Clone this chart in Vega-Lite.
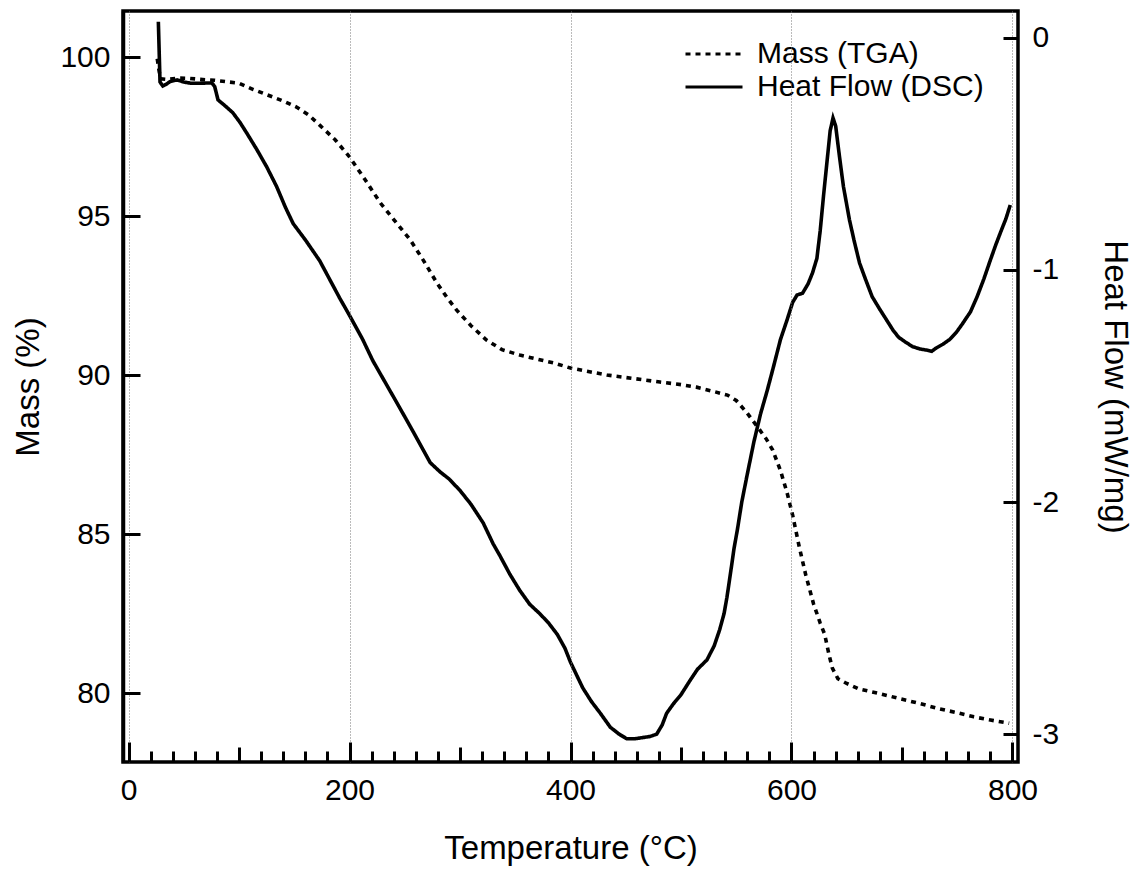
{
  "$schema": "https://vega.github.io/schema/vega-lite/v6.json",
  "width": 895,
  "height": 751,
  "autosize": {"type": "none"},
  "padding": {"left": 123, "top": 11, "right": 119, "bottom": 107},
  "background": "white",
  "config": {
    "font": "Liberation Sans",
    "view": {"stroke": "black", "strokeWidth": 3.5},
    "axis": {"labelColor": "black", "titleColor": "black", "tickColor": "black", "tickOpacity": 1, "titleFontWeight": "normal", "labelFont": "Liberation Sans", "titleFont": "Liberation Sans"}
  },
  "datasets": {
    "tga": [
      {"T": 26, "m": 99.95, "series": "Mass (TGA)"},
      {"T": 27.5, "m": 99.6, "series": "Mass (TGA)"},
      {"T": 29, "m": 99.32, "series": "Mass (TGA)"},
      {"T": 35, "m": 99.3, "series": "Mass (TGA)"},
      {"T": 45, "m": 99.34, "series": "Mass (TGA)"},
      {"T": 55, "m": 99.33, "series": "Mass (TGA)"},
      {"T": 65, "m": 99.3, "series": "Mass (TGA)"},
      {"T": 78, "m": 99.27, "series": "Mass (TGA)"},
      {"T": 90, "m": 99.22, "series": "Mass (TGA)"},
      {"T": 100, "m": 99.18, "series": "Mass (TGA)"},
      {"T": 113, "m": 98.98, "series": "Mass (TGA)"},
      {"T": 125, "m": 98.82, "series": "Mass (TGA)"},
      {"T": 140, "m": 98.62, "series": "Mass (TGA)"},
      {"T": 152, "m": 98.43, "series": "Mass (TGA)"},
      {"T": 163, "m": 98.18, "series": "Mass (TGA)"},
      {"T": 173, "m": 97.86, "series": "Mass (TGA)"},
      {"T": 187, "m": 97.4, "series": "Mass (TGA)"},
      {"T": 200, "m": 96.86, "series": "Mass (TGA)"},
      {"T": 214, "m": 96.15, "series": "Mass (TGA)"},
      {"T": 228, "m": 95.41, "series": "Mass (TGA)"},
      {"T": 241, "m": 94.85, "series": "Mass (TGA)"},
      {"T": 255, "m": 94.25, "series": "Mass (TGA)"},
      {"T": 267, "m": 93.6, "series": "Mass (TGA)"},
      {"T": 279, "m": 92.9, "series": "Mass (TGA)"},
      {"T": 288, "m": 92.45, "series": "Mass (TGA)"},
      {"T": 297, "m": 92.04, "series": "Mass (TGA)"},
      {"T": 310, "m": 91.55, "series": "Mass (TGA)"},
      {"T": 324, "m": 91.1, "series": "Mass (TGA)"},
      {"T": 338, "m": 90.8, "series": "Mass (TGA)"},
      {"T": 354, "m": 90.63, "series": "Mass (TGA)"},
      {"T": 370, "m": 90.5, "series": "Mass (TGA)"},
      {"T": 385, "m": 90.38, "series": "Mass (TGA)"},
      {"T": 400, "m": 90.22, "series": "Mass (TGA)"},
      {"T": 415, "m": 90.12, "series": "Mass (TGA)"},
      {"T": 433, "m": 90.0, "series": "Mass (TGA)"},
      {"T": 455, "m": 89.9, "series": "Mass (TGA)"},
      {"T": 481, "m": 89.78, "series": "Mass (TGA)"},
      {"T": 500, "m": 89.7, "series": "Mass (TGA)"},
      {"T": 514, "m": 89.62, "series": "Mass (TGA)"},
      {"T": 530, "m": 89.48, "series": "Mass (TGA)"},
      {"T": 542, "m": 89.37, "series": "Mass (TGA)"},
      {"T": 550, "m": 89.2, "series": "Mass (TGA)"},
      {"T": 560, "m": 88.8, "series": "Mass (TGA)"},
      {"T": 569, "m": 88.38, "series": "Mass (TGA)"},
      {"T": 577, "m": 88.0, "series": "Mass (TGA)"},
      {"T": 583, "m": 87.64, "series": "Mass (TGA)"},
      {"T": 590, "m": 87.0, "series": "Mass (TGA)"},
      {"T": 596, "m": 86.3, "series": "Mass (TGA)"},
      {"T": 601, "m": 85.6, "series": "Mass (TGA)"},
      {"T": 607, "m": 84.6, "series": "Mass (TGA)"},
      {"T": 613, "m": 83.7, "series": "Mass (TGA)"},
      {"T": 620, "m": 82.8, "series": "Mass (TGA)"},
      {"T": 626, "m": 82.2, "series": "Mass (TGA)"},
      {"T": 630, "m": 81.85, "series": "Mass (TGA)"},
      {"T": 634, "m": 81.2, "series": "Mass (TGA)"},
      {"T": 637, "m": 80.78, "series": "Mass (TGA)"},
      {"T": 642, "m": 80.45, "series": "Mass (TGA)"},
      {"T": 650, "m": 80.3, "series": "Mass (TGA)"},
      {"T": 661, "m": 80.13, "series": "Mass (TGA)"},
      {"T": 680, "m": 79.98, "series": "Mass (TGA)"},
      {"T": 697, "m": 79.83, "series": "Mass (TGA)"},
      {"T": 715, "m": 79.68, "series": "Mass (TGA)"},
      {"T": 734, "m": 79.5, "series": "Mass (TGA)"},
      {"T": 750, "m": 79.38, "series": "Mass (TGA)"},
      {"T": 765, "m": 79.25, "series": "Mass (TGA)"},
      {"T": 780, "m": 79.15, "series": "Mass (TGA)"},
      {"T": 797, "m": 79.05, "series": "Mass (TGA)"}
    ],
    "dsc": [
      {"T": 27, "h": 0.07, "series": "Heat Flow (DSC)"},
      {"T": 28.5, "h": -0.19, "series": "Heat Flow (DSC)"},
      {"T": 31, "h": -0.207, "series": "Heat Flow (DSC)"},
      {"T": 34, "h": -0.2, "series": "Heat Flow (DSC)"},
      {"T": 37.6, "h": -0.188, "series": "Heat Flow (DSC)"},
      {"T": 44, "h": -0.181, "series": "Heat Flow (DSC)"},
      {"T": 50, "h": -0.19, "series": "Heat Flow (DSC)"},
      {"T": 56, "h": -0.195, "series": "Heat Flow (DSC)"},
      {"T": 65, "h": -0.195, "series": "Heat Flow (DSC)"},
      {"T": 75.5, "h": -0.194, "series": "Heat Flow (DSC)"},
      {"T": 78, "h": -0.21, "series": "Heat Flow (DSC)"},
      {"T": 81, "h": -0.267, "series": "Heat Flow (DSC)"},
      {"T": 88, "h": -0.295, "series": "Heat Flow (DSC)"},
      {"T": 94.5, "h": -0.323, "series": "Heat Flow (DSC)"},
      {"T": 101, "h": -0.365, "series": "Heat Flow (DSC)"},
      {"T": 107, "h": -0.41, "series": "Heat Flow (DSC)"},
      {"T": 116, "h": -0.48, "series": "Heat Flow (DSC)"},
      {"T": 125, "h": -0.555, "series": "Heat Flow (DSC)"},
      {"T": 134, "h": -0.64, "series": "Heat Flow (DSC)"},
      {"T": 142, "h": -0.73, "series": "Heat Flow (DSC)"},
      {"T": 149, "h": -0.8, "series": "Heat Flow (DSC)"},
      {"T": 160, "h": -0.87, "series": "Heat Flow (DSC)"},
      {"T": 173, "h": -0.96, "series": "Heat Flow (DSC)"},
      {"T": 182, "h": -1.04, "series": "Heat Flow (DSC)"},
      {"T": 191, "h": -1.12, "series": "Heat Flow (DSC)"},
      {"T": 200.5, "h": -1.2, "series": "Heat Flow (DSC)"},
      {"T": 212, "h": -1.3, "series": "Heat Flow (DSC)"},
      {"T": 221, "h": -1.39, "series": "Heat Flow (DSC)"},
      {"T": 233, "h": -1.49, "series": "Heat Flow (DSC)"},
      {"T": 245, "h": -1.59, "series": "Heat Flow (DSC)"},
      {"T": 258, "h": -1.7, "series": "Heat Flow (DSC)"},
      {"T": 273, "h": -1.83, "series": "Heat Flow (DSC)"},
      {"T": 282, "h": -1.87, "series": "Heat Flow (DSC)"},
      {"T": 290, "h": -1.9, "series": "Heat Flow (DSC)"},
      {"T": 300, "h": -1.95, "series": "Heat Flow (DSC)"},
      {"T": 310, "h": -2.01, "series": "Heat Flow (DSC)"},
      {"T": 321, "h": -2.09, "series": "Heat Flow (DSC)"},
      {"T": 330, "h": -2.18, "series": "Heat Flow (DSC)"},
      {"T": 336, "h": -2.23, "series": "Heat Flow (DSC)"},
      {"T": 345, "h": -2.31, "series": "Heat Flow (DSC)"},
      {"T": 354, "h": -2.38, "series": "Heat Flow (DSC)"},
      {"T": 363, "h": -2.44, "series": "Heat Flow (DSC)"},
      {"T": 372, "h": -2.48, "series": "Heat Flow (DSC)"},
      {"T": 380, "h": -2.52, "series": "Heat Flow (DSC)"},
      {"T": 388, "h": -2.57, "series": "Heat Flow (DSC)"},
      {"T": 395, "h": -2.63, "series": "Heat Flow (DSC)"},
      {"T": 400, "h": -2.69, "series": "Heat Flow (DSC)"},
      {"T": 406, "h": -2.75, "series": "Heat Flow (DSC)"},
      {"T": 411, "h": -2.8, "series": "Heat Flow (DSC)"},
      {"T": 419, "h": -2.86, "series": "Heat Flow (DSC)"},
      {"T": 427, "h": -2.91, "series": "Heat Flow (DSC)"},
      {"T": 436, "h": -2.97, "series": "Heat Flow (DSC)"},
      {"T": 444, "h": -3.0, "series": "Heat Flow (DSC)"},
      {"T": 451, "h": -3.02, "series": "Heat Flow (DSC)"},
      {"T": 458, "h": -3.02, "series": "Heat Flow (DSC)"},
      {"T": 465, "h": -3.015, "series": "Heat Flow (DSC)"},
      {"T": 472, "h": -3.01, "series": "Heat Flow (DSC)"},
      {"T": 478, "h": -3.0, "series": "Heat Flow (DSC)"},
      {"T": 483, "h": -2.96, "series": "Heat Flow (DSC)"},
      {"T": 487, "h": -2.91, "series": "Heat Flow (DSC)"},
      {"T": 493, "h": -2.87, "series": "Heat Flow (DSC)"},
      {"T": 500, "h": -2.83, "series": "Heat Flow (DSC)"},
      {"T": 508, "h": -2.77, "series": "Heat Flow (DSC)"},
      {"T": 515, "h": -2.72, "series": "Heat Flow (DSC)"},
      {"T": 523.5, "h": -2.68, "series": "Heat Flow (DSC)"},
      {"T": 530, "h": -2.62, "series": "Heat Flow (DSC)"},
      {"T": 535, "h": -2.55, "series": "Heat Flow (DSC)"},
      {"T": 539, "h": -2.48, "series": "Heat Flow (DSC)"},
      {"T": 541.6, "h": -2.41, "series": "Heat Flow (DSC)"},
      {"T": 545, "h": -2.3, "series": "Heat Flow (DSC)"},
      {"T": 548, "h": -2.2, "series": "Heat Flow (DSC)"},
      {"T": 551, "h": -2.12, "series": "Heat Flow (DSC)"},
      {"T": 555, "h": -2.0, "series": "Heat Flow (DSC)"},
      {"T": 560, "h": -1.88, "series": "Heat Flow (DSC)"},
      {"T": 566, "h": -1.74, "series": "Heat Flow (DSC)"},
      {"T": 572, "h": -1.62, "series": "Heat Flow (DSC)"},
      {"T": 578, "h": -1.52, "series": "Heat Flow (DSC)"},
      {"T": 583, "h": -1.43, "series": "Heat Flow (DSC)"},
      {"T": 590, "h": -1.3, "series": "Heat Flow (DSC)"},
      {"T": 596, "h": -1.215, "series": "Heat Flow (DSC)"},
      {"T": 601, "h": -1.14, "series": "Heat Flow (DSC)"},
      {"T": 605, "h": -1.108, "series": "Heat Flow (DSC)"},
      {"T": 610, "h": -1.1, "series": "Heat Flow (DSC)"},
      {"T": 615, "h": -1.06, "series": "Heat Flow (DSC)"},
      {"T": 619, "h": -1.013, "series": "Heat Flow (DSC)"},
      {"T": 623, "h": -0.95, "series": "Heat Flow (DSC)"},
      {"T": 626, "h": -0.83, "series": "Heat Flow (DSC)"},
      {"T": 629, "h": -0.68, "series": "Heat Flow (DSC)"},
      {"T": 632, "h": -0.54, "series": "Heat Flow (DSC)"},
      {"T": 635, "h": -0.4, "series": "Heat Flow (DSC)"},
      {"T": 637.6, "h": -0.345, "series": "Heat Flow (DSC)"},
      {"T": 640, "h": -0.38, "series": "Heat Flow (DSC)"},
      {"T": 643.4, "h": -0.51, "series": "Heat Flow (DSC)"},
      {"T": 647, "h": -0.64, "series": "Heat Flow (DSC)"},
      {"T": 652.5, "h": -0.785, "series": "Heat Flow (DSC)"},
      {"T": 657, "h": -0.88, "series": "Heat Flow (DSC)"},
      {"T": 661.6, "h": -0.97, "series": "Heat Flow (DSC)"},
      {"T": 667, "h": -1.04, "series": "Heat Flow (DSC)"},
      {"T": 673, "h": -1.115, "series": "Heat Flow (DSC)"},
      {"T": 680, "h": -1.17, "series": "Heat Flow (DSC)"},
      {"T": 686, "h": -1.215, "series": "Heat Flow (DSC)"},
      {"T": 692, "h": -1.26, "series": "Heat Flow (DSC)"},
      {"T": 697, "h": -1.29, "series": "Heat Flow (DSC)"},
      {"T": 703, "h": -1.31, "series": "Heat Flow (DSC)"},
      {"T": 709.5, "h": -1.33, "series": "Heat Flow (DSC)"},
      {"T": 716, "h": -1.34, "series": "Heat Flow (DSC)"},
      {"T": 722, "h": -1.345, "series": "Heat Flow (DSC)"},
      {"T": 727, "h": -1.35, "series": "Heat Flow (DSC)"},
      {"T": 731, "h": -1.336, "series": "Heat Flow (DSC)"},
      {"T": 737, "h": -1.32, "series": "Heat Flow (DSC)"},
      {"T": 743, "h": -1.3, "series": "Heat Flow (DSC)"},
      {"T": 749, "h": -1.27, "series": "Heat Flow (DSC)"},
      {"T": 755, "h": -1.23, "series": "Heat Flow (DSC)"},
      {"T": 762, "h": -1.18, "series": "Heat Flow (DSC)"},
      {"T": 768, "h": -1.115, "series": "Heat Flow (DSC)"},
      {"T": 774, "h": -1.04, "series": "Heat Flow (DSC)"},
      {"T": 780, "h": -0.957, "series": "Heat Flow (DSC)"},
      {"T": 785, "h": -0.89, "series": "Heat Flow (DSC)"},
      {"T": 790, "h": -0.828, "series": "Heat Flow (DSC)"},
      {"T": 794, "h": -0.78, "series": "Heat Flow (DSC)"},
      {"T": 798, "h": -0.72, "series": "Heat Flow (DSC)"}
    ]
  },
  "encoding": {
    "x": {
      "field": "T", "type": "quantitative",
      "scale": {"domain": [-5, 805], "nice": false, "zero": false},
      "axis": {
        "values": [0,20,40,60,80,100,120,140,160,180,200,220,240,260,280,300,320,340,360,380,400,420,440,460,480,500,520,540,560,580,600,620,640,660,680,700,720,740,760,780,800],
        "title": "Temperature (°C)",
        "titleFontSize": 33,
        "titlePadding": 18,
        "labelFontSize": 30,
        "labelPadding": 33,
        "labelFlush": false,
        "labelOverlap": false,
        "labelExpr": "datum.value % 200 === 0 ? datum.label : ''",
        "tickSize": {"condition": [{"test": "datum.value % 200 === 0", "value": -20}, {"test": "datum.value % 100 === 0", "value": -15}], "value": -11},
        "tickWidth": 3,
        "domain": false,
        "grid": true,
        "gridColor": "#777777",
        "gridWidth": 1,
        "gridDash": [1, 2],
        "gridOpacity": {"condition": {"test": "datum.value % 200 === 0", "value": 1}, "value": 0},
        "zindex": 1
      }
    },
    "strokeDash": {
      "field": "series", "type": "nominal",
      "scale": {"domain": ["Mass (TGA)", "Heat Flow (DSC)"], "range": [[5, 5], [1, 0]]},
      "legend": {
        "orient": "none",
        "legendX": 576,
        "legendY": 28,
        "title": null,
        "padding": 0,
        "labelFontSize": 30,
        "labelLimit": 0,
        "labelColor": "black",
        "labelOffset": 28,
        "symbolType": "M-3,0H3",
        "symbolSize": 361,
        "symbolStrokeWidth": 3,
        "symbolStrokeColor": "black",
        "rowPadding": 3
      }
    }
  },
  "layer": [
    {
      "data": {"name": "tga"},
      "mark": {"type": "line", "color": "black", "strokeWidth": 3.6, "clip": true},
      "encoding": {
        "y": {
          "field": "m", "type": "quantitative",
          "scale": {"domain": [77.83, 101.45], "nice": false, "zero": false},
          "axis": {
            "orient": "left",
            "values": [80, 85, 90, 95, 100],
            "title": "Mass (%)",
            "titleFontSize": 33,
            "titlePadding": 14,
            "labelFontSize": 30,
            "labelPadding": 30,
            "tickSize": -17,
            "tickWidth": 3,
            "tickColor": "#000000",
            "zindex": 1,
            "domain": true,
            "domainColor": "#000000",
            "domainWidth": 3.5,
            "grid": false
          }
        }
      }
    },
    {
      "data": {"name": "dsc"},
      "mark": {"type": "line", "color": "black", "strokeWidth": 3.6, "clip": true},
      "encoding": {
        "y": {
          "field": "h", "type": "quantitative",
          "scale": {"domain": [-3.12, 0.116], "nice": false, "zero": false},
          "axis": {
            "orient": "right",
            "values": [-3, -2, -1, 0],
            "labelExpr": "'' + datum.value",
            "title": "Heat Flow (mW/mg)",
            "titleAngle": 90,
            "titleFontSize": 33,
            "titlePadding": 39,
            "labelFontSize": 30,
            "labelPadding": 29,
            "tickSize": -15,
            "tickWidth": 3,
            "zindex": 1,
            "domain": false,
            "grid": false
          }
        }
      }
    }
  ],
  "resolve": {"scale": {"y": "independent"}, "axis": {"y": "independent"}}
}
